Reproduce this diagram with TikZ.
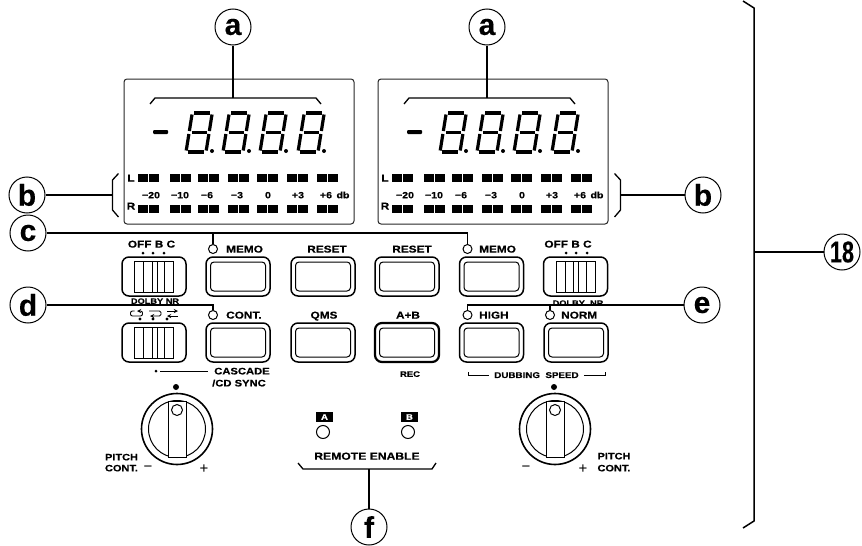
\documentclass[tikz,border=0pt]{standalone}
\usepackage{fontspec}
\setmainfont{Liberation Sans}
\newfontfamily\panelfont[FakeStretch=1.18,BoldFeatures={FakeBold=0.35}]{Liberation Sans}
\newfontfamily\calloutfont[BoldFeatures={FakeBold=0.25}]{Liberation Sans}
\usetikzlibrary{positioning}
\usetikzlibrary{calc}

\tikzset{
	callout/.style={draw,circle,line width=1pt,minimum size=36pt,inner sep=0pt,font=\calloutfont\bfseries\fontsize{30}{30}\selectfont},
	leader/.style={line width=1.5pt},
	lbl/.style={inner sep=0pt,text height=0.72*#1pt,text depth=0pt,font=\panelfont\bfseries\fontsize{#1}{#1}\selectfont},
	lbl/.default=10,
	led/.style={draw,circle,line width=1pt,minimum size=9pt,inner sep=0pt},
	button/.style={draw,rectangle,rounded corners=7pt,line width=1.5pt,minimum width=64pt,minimum height=39pt,inner sep=0pt},
	buttonin/.style={draw,rectangle,rounded corners=3.5pt,line width=1pt,minimum width=55pt,minimum height=29pt,inner sep=0pt},
	tag/.style={rectangle,fill=black,text=white,inner sep=0pt,minimum width=17pt,minimum height=10pt,font=\panelfont\bfseries\fontsize{8}{8}\selectfont},
	sign/.style={inner sep=0pt,font=\fontsize{15}{15}\selectfont},
	lcddigit/.pic={
		\begin{scope}[xslant=0.16,line width=3.2pt]
			\draw (2,-39) -- (18,-39);
			\draw (2.5,-19.5) -- (17.5,-19.5);
			\draw (2,0) -- (18,0);
			\foreach \sx in {0,20} {
				\draw (\sx,-37.5) -- (\sx,-21);
				\draw (\sx,-18) -- (\sx,-1.5);
			}
		\end{scope}
		\fill (26,-1) circle (2);
	},
	slideswitch/.pic={
		\node [button] (-body) at (0,0) {};
		\draw [line width=1pt] (-19.5,-15.5) rectangle (19.5,15.5);
		\foreach \sx in {-10.5,-2,3,10.5} {
			\draw [line width=1pt] (\sx,-15.5) -- (\sx,15.5);
		}
	},
	knob/.pic={
		\node [draw,circle,line width=1.6pt,minimum size=71pt,inner sep=0pt] (-outer) at (0,0) {};
		\node [draw,circle,line width=1pt,minimum size=57pt,inner sep=0pt] (-inner) at (0,0) {};
		\draw [line width=0.9pt,fill=white] (-9,-28) rectangle (9,28);
		\node [draw,circle,line width=1pt,minimum size=11pt,inner sep=0pt] (-mark) at (0,-19) {};
		\fill (-1,-42) circle (3);
	},
}

\begin{document}
\begin{tikzpicture}[x=1pt,y=-1pt,node distance=4pt and 4pt]
	\useasboundingbox (0,0) rectangle (862,546);

	\foreach \dx/\side in {0/L,254/R} {
		\begin{scope}[xshift=\dx]
			\node [draw,rectangle,rounded corners=3pt,line width=1pt,draw=black!85,minimum width=230pt,minimum height=145pt,inner sep=0pt] (disp\side) at (239,151.5) {};

			\draw [line width=1.3pt] (150,104) -- (155,98) -- (316,98) -- (321,104);
			\fill [rounded corners=1pt] (153,130) rectangle (168,134);
			\foreach \gx in {186,223,260,298} {
				\pic at (\gx,152) {lcddigit};
			}

			\foreach \gx in {138,170,198,228,257,287,317} {
				\fill (\gx,174) rectangle +(9.5,8);
				\fill (\gx+11,174) rectangle +(9.5,8);
				\fill (\gx,205) rectangle +(9.5,7.5);
				\fill (\gx+11,205) rectangle +(9.5,7.5);
			}

			\node [lbl=10] (meterl\side) at (131,178) {L};
			\node [lbl=10] (meterr\side) at (131,206) {R};
			\foreach \gx/\gt in {151/−20,180/−10,207/−6,237/−3,268/0,298/+3,326/+6,343/db} {
				\node [lbl=9] at (\gx,195) {\gt};
			}
		\end{scope}
	}

	\node [callout] (aL) at (233,27) {a};
	\node [callout] (aR) at (487,27) {a};
	\node [callout] (bL) at (27,195) {b};
	\node [callout] (bR) at (703,195) {b};
	\node [callout] (c) at (28,233) {c};
	\node [callout] (d) at (28,305) {d};
	\node [callout] (e) at (702,305) {e};
	\node [callout] (f) at (369,527) {f};
	\node [callout] (num) at (842,252) {\scalebox{0.72}[1]{18}};

	\pic (dolbyL) at (154,276.5) {slideswitch};
	\pic (modeL) at (154,342.5) {slideswitch};
	\pic (dolbyR) at (575.5,276.5) {slideswitch};

	\foreach \bx/\by/\name in {238/276.5/memoL,323/276.5/resetL,407/276.5/resetR,491.5/276.5/memoR,238/342.5/cont,323/342.5/qms,491.5/342.5/high,576/342.5/norm} {
		\node [button] (\name) at (\bx,\by) {};
		\node [buttonin] (\name in) at (\bx,\by) {};
	}
	\node [button,line width=2.2pt] (ab) at (407,342.5) {};
	\node [buttonin] (abin) at (407,342.5) {};

	\node [led] (ledmemoL) at (213,249) {};
	\node [led] (ledmemoR) at (467.5,249) {};
	\node [led] (ledcont) at (213,315) {};
	\node [led] (ledhigh) at (467.5,315) {};
	\node [led] (lednorm) at (550,315) {};

	\node [lbl,right=8pt of ledmemoL] (txtmemoL) {MEMO};
	\node [lbl,right=6.5pt of ledmemoR] (txtmemoR) {MEMO};
	\node [lbl,right=8pt of ledcont] (txtcont) {CONT.};
	\node [lbl,right=6.5pt of ledhigh] (txthigh) {HIGH};
	\node [lbl,right=6pt of lednorm] (txtnorm) {NORM};
	\node [lbl] (txtresetL) at (327,249) {RESET};
	\node [lbl] (txtresetR) at (412,249) {RESET};
	\node [lbl] (txtqms) at (324,315) {QMS};
	\node [lbl] (txtab) at (408,315) {A+B};
	\node [lbl=8] (txtrec) at (410,374) {REC};

	\node [lbl] (offL) at (151.5,244) {OFF B C};
	\node [lbl] (offR) at (568,244) {OFF B C};
	\foreach \gx in {143,153,164,566,576,587} {
		\fill (\gx,253) circle (1.5);
	}
	\node [lbl=7.8] (nrL) at (155,301) {DOLBY NR};
	\node [lbl=7.8] (nrR) at (578,303) {DOLBY\ \ NR};

	\draw [line width=0.9pt,rounded corners=2pt,->,>=stealth] (134.5,311) -- (130.5,311) -- (130.5,316) -- (142.5,316) -- (142.5,311) -- (137,311);
	\draw [line width=0.9pt,rounded corners=1.5pt,->,>=stealth] (149,311) -- (161,311) -- (161,316) -- (150,316);
	\draw [line width=0.9pt,->,>=stealth] (167,311) -- (178,311);
	\draw [line width=0.9pt,->,>=stealth] (178,316) -- (167,316);
	\foreach \gx in {140,153,167} {
		\fill (\gx,319) circle (1.6);
	}

	\fill (156,371) circle (1.5);
	\coordinate (cascadeend) at (208,371);
	\draw [line width=1pt] (160,371) -- (cascadeend);
	\node [lbl=9.5] (cascade) at (242,371) {CASCADE};
	\node [lbl=9.5] (cdsync) at (239,383) {/CD SYNC};

	\node [lbl=8.3] (dubbing) at (536.5,375) {DUBBING\ \ SPEED};
	\draw [line width=1pt,shorten >=5pt] (468,372) -- (468,375) -- (dubbing.west);
	\draw [line width=1pt,shorten <=5pt] (dubbing.east) -- (605,375) -- (605,372);

	\pic (knobL) at (177,429) {knob};
	\pic (knobR) at (555,429) {knob};
	\node [lbl=9.3] (pitchL) at (121.5,457) {PITCH};
	\node [lbl=9.3] (contL) at (121.5,468) {CONT.};
	\node [lbl=9.3] (pitchR) at (614,456) {PITCH};
	\node [lbl=9.3] (contR) at (614,468) {CONT.};
	\foreach \gx/\gt in {148/−,204/+,526/−,583/+} {
		\node [sign] at (\gx,469) {\gt};
	}

	\node [tag] (tagA) at (324.5,417) {A};
	\node [tag] (tagB) at (409.5,417) {B};
	\node [led,minimum size=13pt] (ledA) at (323,432) {};
	\node [led,minimum size=13pt] (ledB) at (408,432) {};
	\node [lbl=10.3] (remote) at (367,456) {REMOTE ENABLE};

	\coordinate (tabaL) at (233,98);
	\coordinate (tabaR) at (487,98);
	\coordinate (tabbL) at (112.5,195);
	\coordinate (tabbR) at (620.5,195);
	\coordinate (tabf) at (369,469);
	\coordinate (tabnum) at (754,252);

	\draw [leader] (aL) -- (tabaL);
	\draw [leader] (aR) -- (tabaR);
	\draw [leader] (bL) -- (tabbL);
	\draw [leader] (bR) -- (tabbR);
	\draw [leader] (f) -- (tabf);
	\draw [leader] (num) -- (tabnum);

	\draw [line width=1.3pt] (118.5,173.5) -- (112.5,180) -- (112.5,210) -- (118.5,217);
	\draw [line width=1.3pt] (614.5,173.5) -- (620.5,180) -- (620.5,210) -- (614.5,217);
	\draw [line width=1.3pt] (298,463) -- (303,469) -- (432,469) -- (436,463);
	\draw [line width=1.5pt] (743,1) -- (754,8) -- (754,521) -- (743,528);

	\draw [leader,line width=1.7pt] (c) -- (ledmemoR |- c) -- (ledmemoR);
	\draw [leader] (ledmemoL |- c) -- (ledmemoL);
	\draw [leader] (d) -- (ledcont |- d) -- (ledcont);
	\draw [leader] (e) -- (ledhigh |- e) -- (ledhigh);
	\draw [leader] (lednorm |- e) -- (lednorm);
\end{tikzpicture}
\end{document}
